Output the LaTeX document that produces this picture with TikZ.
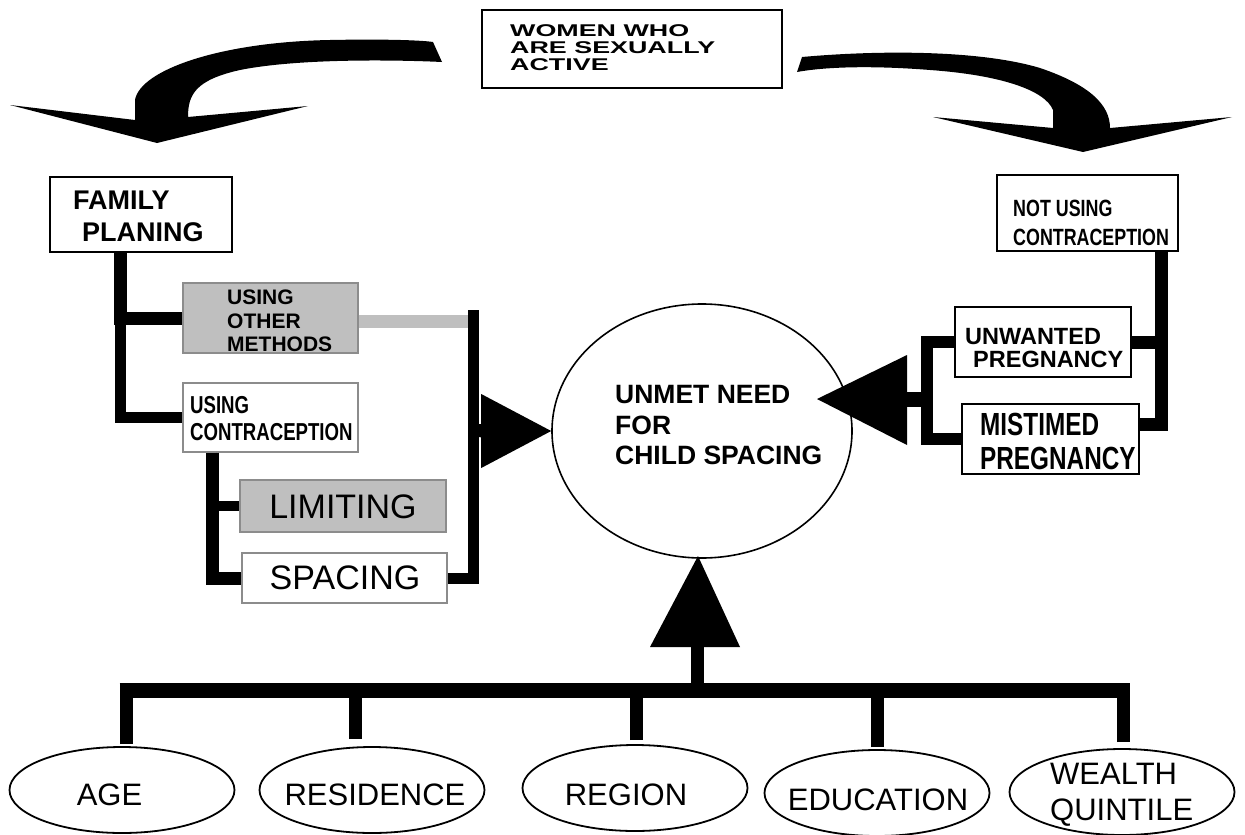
\documentclass[tikz,border=0pt]{standalone}
\usepackage{fontspec}
\setmainfont{Liberation Sans}
\newfontfamily\widefont[FakeStretch=1.58]{Liberation Sans}
\newfontfamily\narrowfont[FakeStretch=0.76]{Liberation Sans}
\usetikzlibrary{shapes.geometric}
\newcommand\fsz[2]{\fontsize{#1}{#2}\selectfont}
\definecolor{boxgray}{RGB}{191,191,191}
\definecolor{edgegray}{RGB}{140,140,140}
\tikzset{
  blackbox/.style={draw=black, line width=1.8pt, inner sep=0pt},
  graybox/.style={draw=edgegray, line width=1.2pt, inner sep=0pt},
  shaded/.style={fill=boxgray},
  txt/.style={inner sep=0pt, anchor=west, align=left},
  lbl/.style={inner sep=0pt, font=\fsz{31}{35.5}},
  bar/.style={draw=black, line width=#1},
  bar/.default=13pt,
  oval/.style={ellipse, draw=black, line width=1.8pt, minimum width=225pt, minimum height=86pt, inner sep=0pt},
}
\begin{document}
\begin{tikzpicture}[x=1pt,y=-1pt]
\useasboundingbox (0,0) rectangle (1245,835);

% ---- top box
\node[blackbox, minimum width=300pt, minimum height=78pt] (top) at (632,49) {};
\node[txt, font=\widefont\bfseries\fsz{17}{17}] (toptxt) at (510,48) {WOMEN WHO\\ARE SEXUALLY\\ACTIVE};

% ---- curved arrows
\fill (157,143) -- (10,105) -- (135,120) -- (135,100)
  .. controls (140,70) and (220,42) .. (330,40)
  .. controls (380,39) and (420,40) .. (433,42)
  -- (442,62)
  .. controls (400,60) and (300,58) .. (240,70)
  .. controls (195,80) and (188,95) .. (188,117)
  -- (308,106) -- cycle;
\fill (797,72) -- (802,57)
  .. controls (880,50) and (980,50) .. (1040,68)
  .. controls (1090,85) and (1110,105) .. (1110,128)
  -- (1232,117) -- (1083,152) -- (933,117) -- (1053,128) -- (1053,110)
  .. controls (1045,90) and (1000,75) .. (930,70)
  .. controls (880,66) and (830,66) .. (797,72) -- cycle;

% ---- left side boxes
\node[blackbox, minimum width=182pt, minimum height=75pt] (fp) at (141,214.5) {};
\node[txt, font=\bfseries\fsz{27}{32}] (fptxt) at (73,216) {FAMILY\\\hspace*{9pt}PLANING};

\node[graybox, shaded, minimum width=175pt, minimum height=70pt] (uon) at (270.5,318) {};
\node[txt, font=\bfseries\fsz{21}{23.3}] (uontxt) at (227,321) {USING\\OTHER\\METHODS};

\node[graybox, minimum width=175pt, minimum height=69pt] (uc) at (270.5,417.5) {};
\node[txt, font=\narrowfont\bfseries\fsz{24.5}{27}] (uctxt) at (190,418.5) {USING\\CONTRACEPTION};

\node[graybox, shaded, minimum width=206pt, minimum height=52pt] (lim) at (343,506) {};
\node[inner sep=0pt, font=\fsz{34}{34}] (limtxt) at (343,507) {LIMITING};

\node[graybox, minimum width=205pt, minimum height=50pt] (spa) at (344.5,578) {};
\node[inner sep=0pt, font=\fsz{34}{34}] (spatxt) at (345,578) {SPACING};

% ---- centre
\node[ellipse, draw=black, line width=1.6pt, minimum width=300pt, minimum height=254pt, inner sep=0pt] (main) at (702,431) {};
\node[txt, font=\bfseries\fsz{26.5}{30.5}] (maintxt) at (615,425.5) {UNMET NEED\\FOR\\CHILD SPACING};

% ---- right side boxes
\node[blackbox, minimum width=181pt, minimum height=76pt] (nu) at (1087.5,213) {};
\node[txt, font=\narrowfont\bfseries\fsz{23.5}{29}] (nutxt) at (1013,222.5) {NOT USING\\CONTRACEPTION};

\node[blackbox, minimum width=176pt, minimum height=70pt] (unw) at (1043,342) {};
\node[txt, font=\bfseries\fsz{23.5}{23}] (unwtxt) at (965,348.5) {UNWANTED\\\hspace*{8pt}PREGNANCY};

\node[blackbox, minimum width=177pt, minimum height=70pt] (mis) at (1050.5,439) {};
\node[txt, font=\narrowfont\bfseries\fsz{32}{34}] (mistxt) at (980,441) {MISTIMED\\PREGNANCY};

% ---- bottom ovals
\node[oval] (age) at (122,790) {};
\node[oval] (res) at (372,790) {};
\node[oval] (reg) at (635,788) {};
\node[oval] (edu) at (877,793) {};
\node[oval] (wq)  at (1122,792) {};
\node[lbl] (agetxt) at (109.5,795) {AGE};
\node[lbl] (restxt) at (375,795) {RESIDENCE};
\node[lbl] (regtxt) at (626,795) {REGION};
\node[lbl] (edutxt) at (878,800) {EDUCATION};
\node[lbl, anchor=west, align=left] (wqtxt) at (1050,795) {WEALTH\\QUINTILE};

% ---- left connectors
\coordinate (fpx) at ([xshift=-21pt]fp.south);
\draw[bar=13pt] (fpx) |- (uon.west);
\draw[bar=11pt] (fpx) |- (uc.west);
\coordinate (ucx) at ([xshift=-58.5pt]uc.south);
\draw[bar=10pt] (ucx) |- (lim.west);
\draw[bar=13pt] (ucx) |- (spa.east -| ucx) -- (spa.west);
\draw[line width=13pt, draw=boxgray] ([yshift=-3pt]uon.east) -- ++(110,0);
\coordinate (vtop) at (473,310);
\draw[bar=11pt] (spa.east) -| (vtop);
\coordinate (vmid) at (473,430);
\draw[bar=13pt] (vmid) -- ([xshift=-68pt]main.west);
\fill (main.west) -- ++(-70,-37) -- ++(0,74) -- cycle;

% ---- right connectors
\draw[bar=12pt] (unw.west) -- ++(-27,0) |- (mis.west);
\coordinate (rtip) at (817,399);
\coordinate (rj) at (928,399);
\draw[bar=15pt] (rj) -- ([xshift=88pt]rtip);
\fill (rtip) -- ++(90,-44) -- ++(0,90) -- cycle;
\coordinate (nux) at ([xshift=73.5pt]nu.south);
\draw[bar=13pt] (nux) |- (unw.east);
\draw[bar=13pt] (nux) |- ([yshift=15pt]mis.east);

% ---- bottom connectors
\coordinate (utip) at (698,556);
\fill (utip) -- ++(-48,91) -- ++(90,0) -- cycle;
\coordinate (ubase) at (697,646);
\coordinate (busL) at (119.5,690);
\coordinate (busR) at (1129.5,690);
\draw[bar=15pt] (busL) -- (busR);
\draw[bar=13pt] (ubase) -- (ubase |- busL);
\coordinate (d1) at ([xshift=4pt,yshift=2pt]age.north);
\coordinate (d2) at ([xshift=-17pt,yshift=7pt]res.north);
\coordinate (d3) at ([xshift=1pt,yshift=4pt]reg.north);
\coordinate (d4) at ([yshift=2pt]edu.north);
\coordinate (d5) at ([xshift=1pt,yshift=6pt]wq.north);
\foreach \d in {d1,d2,d3,d4,d5}{
  \draw[bar=13pt] (\d) -- (\d |- busL);
}
\end{tikzpicture}
\end{document}
